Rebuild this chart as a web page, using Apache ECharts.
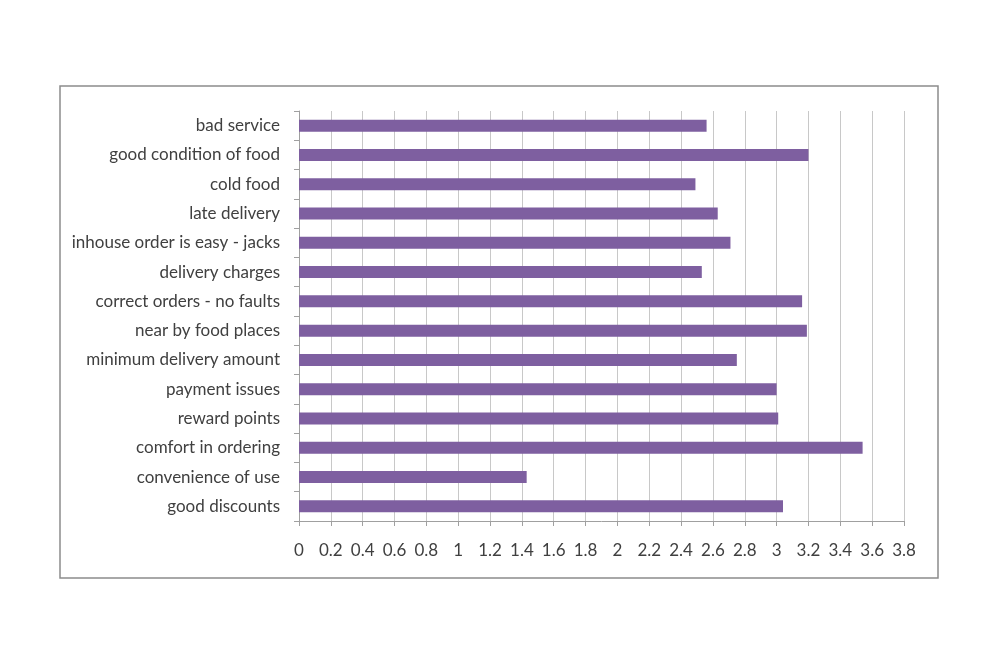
<!DOCTYPE html>
<html>
<head>
<meta charset="utf-8">
<script src="https://cdn.jsdelivr.net/npm/echarts@6/dist/echarts.min.js"></script>
<style>
html, body { margin: 0; padding: 0; background: #fff; }
#chart { width: 1000px; height: 667px; }
</style>
</head>
<body>
<div id="chart"></div>
<script>
// categories top to bottom
var categories = ['bad service', 'good condition of food', 'cold food', 'late delivery',
    'inhouse order is easy - jacks', 'delivery charges', 'correct orders - no faults',
    'near by food places', 'minimum delivery amount', 'payment issues', 'reward points',
    'comfort in ordering', 'convenience of use', 'good discounts'];
var scores = [2.56, 3.2, 2.49, 2.63, 2.71, 2.53, 3.16, 3.19, 2.75, 3.0, 3.01, 3.54, 1.43, 3.04];

var font = 'Lato, "Open Sans", sans-serif';

var myChart = echarts.init(document.getElementById('chart'));
var option = {
    animation: false,
    graphic: [{
        type: 'rect',
        shape: { x: 60, y: 86, width: 878, height: 492 },
        style: { fill: 'none', stroke: '#8c8c8c', lineWidth: 1.5 }
    }],
    grid: { left: 299, right: 96, top: 111, bottom: 146 },
    xAxis: {
        type: 'value',
        min: 0,
        max: 3.8,
        interval: 0.2,
        axisLine: { show: true, lineStyle: { color: '#a0a0a0' } },
        axisTick: { show: true, length: 5, lineStyle: { color: '#a0a0a0' } },
        splitLine: { show: true, lineStyle: { color: '#c8c8c8' } },
        axisLabel: {
            margin: 21,
            fontFamily: font,
            fontSize: 17,
            color: '#404040',
            formatter: function (v) { return +v.toFixed(1); }
        }
    },
    yAxis: {
        type: 'category',
        inverse: true,
        data: categories,
        axisLine: { show: true, lineStyle: { color: '#a0a0a0' } },
        axisTick: { show: true, length: 5, lineStyle: { color: '#a0a0a0' } },
        axisLabel: {
            margin: 19,
            fontFamily: font,
            fontSize: 17,
            color: '#404040'
        }
    },
    series: [{
        name: 'score',
        type: 'bar',
        data: scores,
        barWidth: 12,
        itemStyle: { color: '#7e5fa0' }
    }]
};
myChart.setOption(option);
</script>
</body>
</html>
